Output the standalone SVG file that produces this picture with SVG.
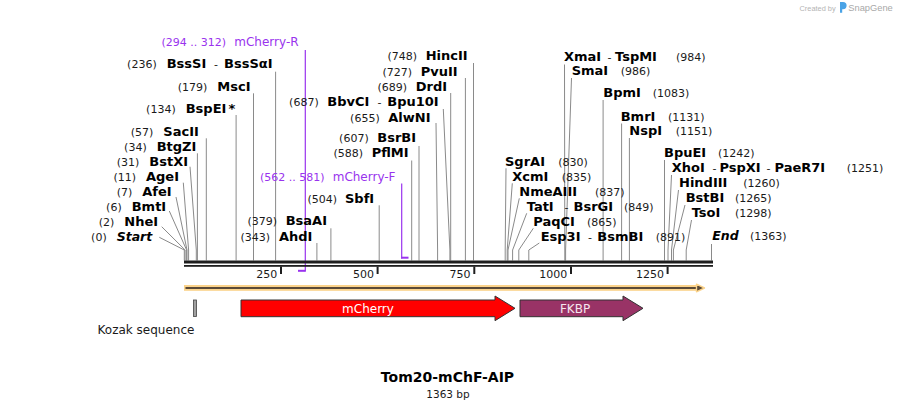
<svg xmlns="http://www.w3.org/2000/svg" width="897" height="411" viewBox="0 0 897 411">
<style>
text{font-family:"DejaVu Sans",Verdana,sans-serif}
.n{font-size:11px;fill:#1a1a1a}
.b{font-size:13px;font-weight:bold;fill:#000}
.bi{font-size:12.5px;font-weight:bold;font-style:italic;fill:#000}
.pr{font-size:12px;fill:#9933ee}
.prn{font-size:11px;fill:#9933ee}
.ln{stroke:#8a8a8a;stroke-width:1;fill:none}
.pl{stroke:#9933ee;stroke-width:1.2;fill:none}
.tk{font-size:11px;fill:#1a1a1a;text-anchor:end}
.ft{font-size:12px;fill:#fff;text-anchor:middle}
.axis{fill:#1e1e1e}
</style>
<rect width="897" height="411" fill="#fff"/>

<!-- watermark -->
<g id="watermark">
<text x="799.5" y="10.5" style="font-family:'Liberation Sans',Arial,sans-serif;font-size:7.4px;fill:#b4b4b4">Created by</text>
<path d="M840,2 h3 a3.6,3.6 0 0 1 0,7.2 h-0.8 v3.6 h-2.2 z" fill="#4aa3e6"/>
<text x="848.3" y="11" style="font-family:'Liberation Sans',Arial,sans-serif;font-size:9.3px;fill:#a8a8a8">SnapGene</text>
</g>

<!-- connectors -->
<g id="connectors">
<path class="ln" d="M159.3,237.3 L184.3,250 V260.5"/>
<path class="ln" d="M161.7,226.7 L185.1,250 V260.5"/>
<path class="ln" d="M169.3,211 L186.6,250 V260.5"/>
<path class="ln" d="M176,197 L187,250 V260.5"/>
<path class="ln" d="M183.3,182.7 L188.6,250 V260.5"/>
<path class="ln" d="M190,166.7 L196.3,250 V260.5"/>
<path class="ln" d="M197.4,153.3 V260.5"/>
<path class="ln" d="M206.3,138.3 V260.5"/>
<path class="ln" d="M236.1,115 V260.5"/>
<path class="ln" d="M253.5,93.3 V260.5"/>
<path class="ln" d="M275.6,71.7 V260.5"/>
<path class="ln" d="M316.9,243 V260.5"/>
<path class="ln" d="M330.9,228.3 V260.5"/>
<path class="ln" d="M379.2,205.3 V260.5"/>
<path class="ln" d="M411.7,160.5 V260.5"/>
<path class="ln" d="M419,146 V260.5"/>
<path class="ln" d="M436,123 L437.6,250 V260.5"/>
<path class="ln" d="M443.3,109 L449.9,250 V260.5"/>
<path class="ln" d="M450.7,93 V260.5"/>
<path class="ln" d="M465.4,78 V260.5"/>
<path class="ln" d="M473.5,63 V260.5"/>
<path class="ln" d="M506,168.3 L505.2,250 V260.5"/>
<path class="ln" d="M512.3,183.3 L507.2,250 V260.5"/>
<path class="ln" d="M519.3,198.3 L508,250 V260.5"/>
<path class="ln" d="M526.7,213.3 L512.6,250 V260.5"/>
<path class="ln" d="M533.3,228.3 L518.8,250 V260.5"/>
<path class="ln" d="M539.3,243 L528.8,250 V260.5"/>
<path class="ln" d="M564.5,64.5 L564.8,250 V260.5"/>
<path class="ln" d="M571.5,78 L565.6,250 V260.5"/>
<path class="ln" d="M603.1,100 V260.5"/>
<path class="ln" d="M621.6,123.5 V260.5"/>
<path class="ln" d="M629.4,138 V260.5"/>
<path class="ln" d="M664.5,160 V260.5"/>
<path class="ln" d="M671.5,175 L668,250 V260.5"/>
<path class="ln" d="M678.5,190 L671.5,250 V260.5"/>
<path class="ln" d="M685,205 L673.4,250 V260.5"/>
<path class="ln" d="M691.5,220 L686.2,250 V260.5"/>
<path class="ln" d="M711.5,244 V260.5"/>
<path class="pl" d="M305.3,50 V271.5"/>
<path class="pl" d="M401.7,183.5 V258.5"/>
</g>

<!-- primers -->
<g id="primer-mCherry-R">
<rect x="298" y="269.8" width="7.5" height="2" fill="#9933ee"/>
<text class="prn" x="226" y="46" text-anchor="end">(294 .. 312)</text>
<text class="pr" x="234.3" y="46">mCherry-R</text>
</g>
<g id="primer-mCherry-F">
<rect x="401" y="256.7" width="7.5" height="2" fill="#9933ee"/>
<text class="prn" x="324.5" y="180.7" text-anchor="end">(562 .. 581)</text>
<text class="pr" x="332.7" y="180.7">mCherry-F</text>
</g>

<!-- backbone -->
<g id="backbone">
<rect class="axis" x="184" y="260.5" width="529" height="3"/>
<rect class="axis" x="184" y="265" width="529" height="1.8"/>
<rect class="axis" x="280" y="266.5" width="2" height="7.5"/>
<rect class="axis" x="376.6" y="266.5" width="2" height="7.5"/>
<rect class="axis" x="473.3" y="266.5" width="2" height="7.5"/>
<rect class="axis" x="570" y="266.5" width="2" height="7.5"/>
<rect class="axis" x="666.6" y="266.5" width="2" height="7.5"/>
<text class="tk" x="277.3" y="277.5">250</text>
<text class="tk" x="373.9" y="277.5">500</text>
<text class="tk" x="470.6" y="277.5">750</text>
<text class="tk" x="567.3" y="277.5">1000</text>
<text class="tk" x="663.9" y="277.5">1250</text>
</g>

<!-- ORF -->
<g id="orf">
<rect x="184" y="285" width="514" height="5.8" fill="#fbd38b"/>
<rect x="185.5" y="287" width="512" height="2" fill="#5a4a38"/>
<polygon points="696.5,284.2 704.5,288 696.5,291.8" fill="#5a4a38" stroke="#fbd38b" stroke-width="1.4" stroke-linejoin="round"/>
</g>

<!-- features -->
<g id="kozak">
<rect x="193.5" y="300" width="3" height="16.5" fill="#a0a0a0" stroke="#444" stroke-width="0.8"/>
<text x="146" y="334" style="font-size:12px;fill:#1a1a1a" text-anchor="middle">Kozak sequence</text>
</g>
<g id="mCherry">
<path d="M241,300 H495 V296 L515,308.3 L495,320.7 V316.7 H241 Z" fill="#ff0000" stroke="#333" stroke-width="1"/>
<text class="ft" x="368" y="312.5">mCherry</text>
</g>
<g id="FKBP">
<path d="M520,300 H623 V296 L643,308.3 L623,320.7 V316.7 H520 Z" fill="#993366" stroke="#333" stroke-width="1"/>
<text class="ft" x="575" y="312.5" style="fill:#f6e6ee">FKBP</text>
</g>

<!-- left enzyme labels -->
<g id="Start"><text class="n" x="106.7" y="240.7" text-anchor="end">(0)</text><text class="bi" x="116.7" y="240.7">Start</text></g>
<g id="NheI"><text class="n" x="114.3" y="226" text-anchor="end">(2)</text><text class="b" x="124.3" y="226">NheI</text></g>
<g id="BmtI"><text class="n" x="121.7" y="210.7" text-anchor="end">(6)</text><text class="b" x="131.7" y="210.7">BmtI</text></g>
<g id="AfeI"><text class="n" x="132.3" y="195.5" text-anchor="end">(7)</text><text class="b" x="142.3" y="195.5">AfeI</text></g>
<g id="AgeI"><text class="n" x="136" y="181" text-anchor="end">(11)</text><text class="b" x="146" y="181">AgeI</text></g>
<g id="BstXI"><text class="n" x="139.3" y="165.7" text-anchor="end">(31)</text><text class="b" x="149.3" y="165.7">BstXI</text></g>
<g id="BtgZI"><text class="n" x="146.7" y="150.7" text-anchor="end">(34)</text><text class="b" x="156.7" y="150.7">BtgZI</text></g>
<g id="SacII"><text class="n" x="153.3" y="135.5" text-anchor="end">(57)</text><text class="b" x="163.3" y="135.5">SacII</text></g>
<g id="BspEI"><text class="n" x="175.7" y="112.7" text-anchor="end">(134)</text><text class="b" x="185.7" y="112.7">BspEI</text><text class="b" x="228.6" y="112.7">*</text></g>
<g id="MscI"><text class="n" x="207.3" y="91" text-anchor="end">(179)</text><text class="b" x="217.3" y="91">MscI</text></g>
<g id="BssSI"><text class="n" x="156.7" y="67.7" text-anchor="end">(236)</text><text class="b" x="166.7" y="67.7">BssSI</text><text class="n" x="214" y="67.7">-</text><text class="b" x="224" y="67.7">BssSαI</text></g>

<!-- middle enzyme labels -->
<g id="AhdI"><text class="n" x="270" y="240.5" text-anchor="end">(343)</text><text class="b" x="279" y="240.5">AhdI</text></g>
<g id="BsaAI"><text class="n" x="277" y="225.2" text-anchor="end">(379)</text><text class="b" x="285.7" y="225.2">BsaAI</text></g>
<g id="SbfI"><text class="n" x="337" y="203.3" text-anchor="end">(504)</text><text class="b" x="345" y="203.3">SbfI</text></g>
<g id="PflMI"><text class="n" x="363" y="157.3" text-anchor="end">(588)</text><text class="b" x="371.7" y="157.3">PflMI</text></g>
<g id="BsrBI"><text class="n" x="368.7" y="142.3" text-anchor="end">(607)</text><text class="b" x="377.3" y="142.3">BsrBI</text></g>
<g id="AlwNI"><text class="n" x="379.7" y="121.7" text-anchor="end">(655)</text><text class="b" x="388.3" y="121.7">AlwNI</text></g>
<g id="BbvCI"><text class="n" x="318.7" y="106" text-anchor="end">(687)</text><text class="b" x="327.3" y="106">BbvCI</text><text class="n" x="377.5" y="106">-</text><text class="b" x="387.3" y="106">Bpu10I</text></g>
<g id="DrdI"><text class="n" x="407" y="90.7" text-anchor="end">(689)</text><text class="b" x="415.7" y="90.7">DrdI</text></g>
<g id="PvuII"><text class="n" x="412" y="75.7" text-anchor="end">(727)</text><text class="b" x="420.7" y="75.7">PvuII</text></g>
<g id="HincII"><text class="n" x="417" y="60" text-anchor="end">(748)</text><text class="b" x="425.7" y="60">HincII</text></g>

<!-- right enzyme labels -->
<g id="XmaI"><text class="b" x="564" y="60.7">XmaI</text><text class="n" x="607.5" y="60.7">-</text><text class="b" x="615" y="60.7">TspMI</text><text class="n" x="676" y="60.7">(984)</text></g>
<g id="SmaI"><text class="b" x="571.7" y="75">SmaI</text><text class="n" x="620.7" y="75">(986)</text></g>
<g id="BpmI"><text class="b" x="603.3" y="97.3">BpmI</text><text class="n" x="652.7" y="97.3">(1083)</text></g>
<g id="BmrI"><text class="b" x="620.7" y="120.7">BmrI</text><text class="n" x="668" y="120.7">(1131)</text></g>
<g id="NspI"><text class="b" x="629.3" y="135">NspI</text><text class="n" x="675.7" y="135">(1151)</text></g>
<g id="SgrAI"><text class="b" x="505" y="165.7">SgrAI</text><text class="n" x="558.3" y="165.7">(830)</text></g>
<g id="XcmI"><text class="b" x="512.3" y="180.7">XcmI</text><text class="n" x="561.7" y="180.7">(835)</text></g>
<g id="NmeAIII"><text class="b" x="519.3" y="195.7">NmeAIII</text><text class="n" x="595" y="195.7">(837)</text></g>
<g id="TatI"><text class="b" x="526.7" y="211">TatI</text><text class="n" x="564.5" y="211">-</text><text class="b" x="573.5" y="211">BsrGI</text><text class="n" x="624" y="211">(849)</text></g>
<g id="PaqCI"><text class="b" x="533.3" y="226">PaqCI</text><text class="n" x="587" y="226">(865)</text></g>
<g id="Esp3I"><text class="b" x="540.7" y="240.7">Esp3I</text><text class="n" x="588" y="240.7">-</text><text class="b" x="597.3" y="240.7">BsmBI</text><text class="n" x="655.7" y="240.7">(891)</text></g>
<g id="BpuEI"><text class="b" x="664" y="157.3">BpuEI</text><text class="n" x="718" y="157.3">(1242)</text></g>
<g id="XhoI"><text class="b" x="671.7" y="172.3">XhoI</text><text class="n" x="712.5" y="172.3">-</text><text class="b" x="719.5" y="172.3">PspXI</text><text class="n" x="766.5" y="172.3">-</text><text class="b" x="774.5" y="172.3">PaeR7I</text><text class="n" x="846.7" y="172.3">(1251)</text></g>
<g id="HindIII"><text class="b" x="679" y="187.3">HindIII</text><text class="n" x="743.3" y="187.3">(1260)</text></g>
<g id="BstBI"><text class="b" x="685.7" y="202.3">BstBI</text><text class="n" x="735" y="202.3">(1265)</text></g>
<g id="TsoI"><text class="b" x="691.7" y="217.3">TsoI</text><text class="n" x="735" y="217.3">(1298)</text></g>
<g id="End"><text class="bi" x="712.3" y="240">End</text><text class="n" x="750" y="240">(1363)</text></g>

<!-- title -->
<g id="title">
<text x="447.5" y="382" text-anchor="middle" style="font-size:14px;font-weight:bold;fill:#000">Tom20-mChF-AIP</text>
<text x="448" y="398.3" text-anchor="middle" style="font-size:10.5px;fill:#1a1a1a">1363 bp</text>
</g>
</svg>
